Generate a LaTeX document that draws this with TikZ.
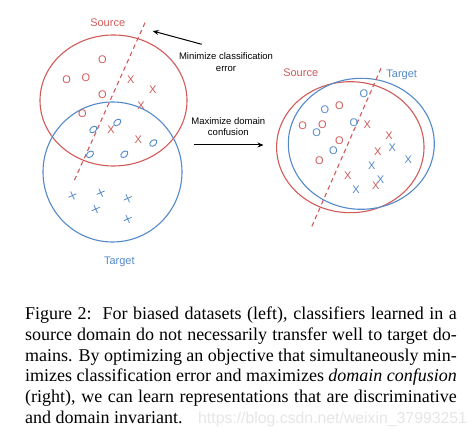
\documentclass[tikz,border=0pt]{standalone}
\usepackage{fontspec}
\setmainfont{Liberation Serif}
\newfontfamily\labelfont{Liberation Sans}
\usetikzlibrary{arrows.meta,shapes.geometric}
\definecolor{srcred}{RGB}{208,92,90}
\definecolor{tgtblue}{RGB}{84,138,202}
\definecolor{wmgray}{RGB}{230,230,230}
\tikzset{
  domline/.style={line width=1.1pt},
  sepline/.style={srcred,line width=1.1pt,dash pattern=on 4.5pt off 3.5pt},
  domlabel/.style={font=\labelfont\fontsize{11}{13}\selectfont,inner sep=0pt},
  redmark/.style={text=srcred,font=\labelfont\fontsize{11}{13}\selectfont,inner sep=0pt},
  bluemark/.style={text=tgtblue,font=\labelfont\fontsize{11}{13}\selectfont,inner sep=0pt},
  blueo/.style={draw=tgtblue,line width=0.9pt,ellipse,inner sep=0pt,minimum width=8pt,minimum height=5.5pt,rotate=40},
  bcross/.pic={\draw[tgtblue,line width=0.8pt] (-4,1.8) -- (4,-1.8) (-1.8,-4) -- (1.8,4);},
  note/.style={font=\labelfont\fontsize{9.5}{11.5}\selectfont,align=center,inner sep=0pt},
  actarrow/.style={line width=1pt,-{Stealth[length=6pt,width=5pt]}},
  capline/.style={font=\fontsize{18}{21}\selectfont,anchor=base west,inner sep=0pt},
}
\begin{document}
\begin{tikzpicture}[x=1pt,y=-1pt]
\useasboundingbox[fill=white] (0,0) rectangle (476,443);
% ---------- left panel ----------
\draw[domline,srcred] (113.5,100.5) ellipse [x radius=73.5,y radius=65.5];
\draw[domline,tgtblue] (112.5,172) ellipse [x radius=69.5,y radius=70];
\coordinate (lsepA) at (145,22.7);
\coordinate (lsepB) at (73.3,182.7);
\draw[sepline] (lsepA) -- (lsepB);
\node[domlabel,text=srcred] (lsrc) at (107.7,22.7) {Source};
\node[domlabel,text=tgtblue] (ltgt) at (119.3,261.7) {Target};
% red O's
\node[redmark] (lo1) at (102.3,60) {O};
\node[redmark] (lo2) at (66.7,80) {O};
\node[redmark] (lo3) at (86,77.7) {O};
\node[redmark] (lo4) at (102.3,94.3) {O};
\node[redmark] (lo5) at (82.3,114) {O};
% red X's
\node[redmark] (lx1) at (130.7,79.3) {X};
\node[redmark] (lx2) at (152.7,90) {X};
\node[redmark] (lx3) at (141,106) {X};
\node[redmark] (lx4) at (111,130) {X};
\node[redmark] (lx5) at (138.3,140) {X};
% blue o's
\node[blueo] (lb1) at (117.3,122.5) {};
\node[blueo] (lb2) at (93.3,129.5) {};
\node[blueo] (lb3) at (153.3,143) {};
\node[blueo] (lb4) at (90,154.3) {};
\node[blueo] (lb5) at (124.3,154.3) {};
% blue crosses
\pic (lc1) at (72.5,195.5) {bcross};
\pic (lc2) at (100.7,192.7) {bcross};
\pic (lc3) at (127.7,198.3) {bcross};
\pic (lc4) at (95.7,209) {bcross};
\pic (lc5) at (127.7,219) {bcross};
% ---------- middle annotations ----------
\node[note] (minerr) at (226,62) {Minimize classification\\error};
\coordinate (minstart) at (201.7,44.3);
\coordinate (minend) at (152.7,31);
\draw[actarrow] (minstart) -- (minend);
\node[note] (maxconf) at (228.3,126.7) {Maximize domain\\confusion};
\coordinate (maxstart) at (194,145);
\coordinate (maxend) at (263.5,145);
\draw[actarrow] (maxstart) -- (maxend);
% ---------- right panel ----------
\draw[domline,srcred] (350.3,147.2) ellipse [x radius=73.7,y radius=65.5];
\draw[domline,tgtblue] (361.3,143.8) ellipse [x radius=73,y radius=65.5];
\coordinate (rsepA) at (381,68.3);
\coordinate (rsepB) at (310.7,229);
\draw[sepline] (rsepA) -- (rsepB);
\node[domlabel,text=srcred] (rsrc) at (300.7,72.7) {Source};
\node[domlabel,text=tgtblue] (rtgt) at (401.7,75) {Target};
% red O's
\node[redmark] (ro1) at (339.3,105.7) {O};
\node[redmark] (ro2) at (302.7,126) {O};
\node[redmark] (ro3) at (322.3,124.3) {O};
\node[redmark] (ro4) at (339.3,141) {O};
\node[redmark] (ro5) at (319.3,160.7) {O};
% blue O's
\node[bluemark] (rb1) at (364,94) {O};
\node[bluemark] (rb2) at (325,110) {O};
\node[bluemark] (rb3) at (316.7,132.7) {O};
\node[bluemark] (rb4) at (354,122.7) {O};
\node[bluemark] (rb5) at (333.3,151) {O};
% red X's
\node[redmark] (rx1) at (367.3,125) {X};
\node[redmark] (rx2) at (389,135.7) {X};
\node[redmark] (rx3) at (377.7,151.7) {X};
\node[redmark] (rx4) at (347.7,176) {X};
\node[redmark] (rx5) at (375.7,186) {X};
% blue X's
\node[bluemark] (ry1) at (392.3,147.3) {X};
\node[bluemark] (ry2) at (408.3,160) {X};
\node[bluemark] (ry3) at (371.7,166) {X};
\node[bluemark] (ry4) at (380.5,179.5) {X};
\node[bluemark] (ry5) at (356,189.5) {X};
% ---------- caption ----------
\node[capline] (cap1) at (25,319.3) {\makebox[431.7pt][s]{Figure 2:\ \ For biased datasets (left), classifiers learned in a}};
\node[capline] (cap2) at (25,340) {\makebox[431.7pt][s]{source domain do not necessarily transfer well to target do-}};
\node[capline] (cap3) at (25,361) {\makebox[431.7pt][s]{mains. By optimizing an objective that simultaneously min-}};
\node[capline] (cap4) at (25,381.7) {\makebox[431.7pt][s]{imizes classification error and maximizes \textit{domain confusion}}};
\node[capline] (cap5) at (25,402.7) {\makebox[431.7pt][s]{(right), we can learn representations that are discriminative}};
\node[capline] (cap6) at (25,423.3) {and domain invariant.};
\node[anchor=base west,inner sep=0pt,text=wmgray,font=\labelfont\fontsize{15.8}{18}\selectfont] (wm) at (198,423.3) {https://blog.csdn.net/weixin\_37993251};
\end{tikzpicture}
\end{document}
